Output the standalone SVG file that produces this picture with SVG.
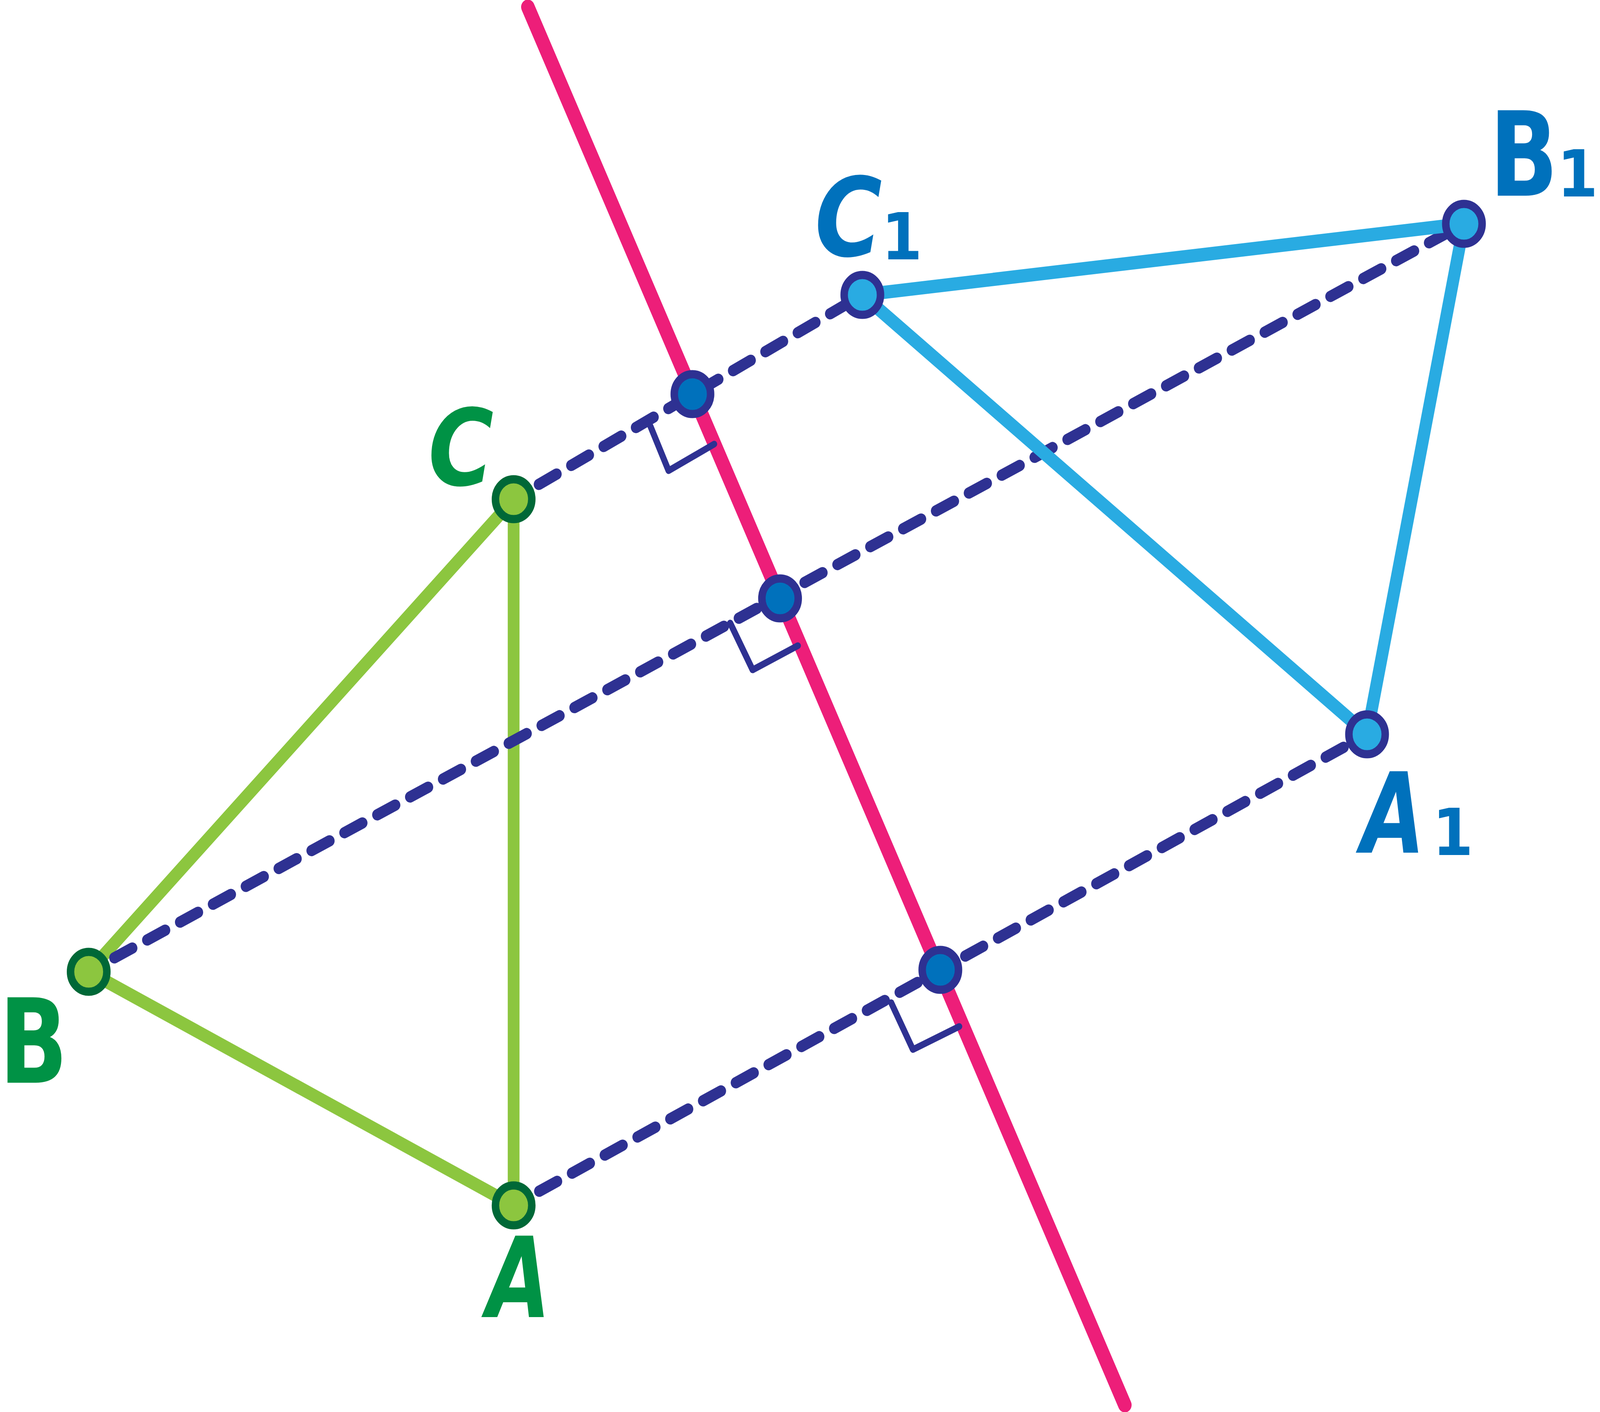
<svg xmlns="http://www.w3.org/2000/svg" width="4492" height="3615" viewBox="0 0 4492 3615" preserveAspectRatio="none">
  <style>
    svg { width: 100vw; height: 100vh; }
    .green-line { stroke: #8CC63F; stroke-width: 33; stroke-linecap: round; fill: none; }
    .blue-line { stroke: #29ABE2; stroke-width: 34; stroke-linecap: round; fill: none; }
    .mirror { stroke: #ED1E79; stroke-width: 38; stroke-linecap: round; fill: none; }
    .dash { stroke: #2E3192; stroke-width: 29; stroke-linecap: round; stroke-dasharray: 56 47; stroke-dashoffset: 22.5; fill: none; }
    .mark { stroke: #2E3192; stroke-width: 17; stroke-linecap: round; stroke-linejoin: round; fill: none; }
    .pt-orig { fill: #8CC63F; stroke: #006837; stroke-width: 21; }
    .pt-img { fill: #29ABE2; stroke: #2E3192; stroke-width: 21; }
    .pt-foot { fill: #0071BC; stroke: #2E3192; stroke-width: 21; }
    .lbl { font-family: "DejaVu Sans", "Liberation Sans", sans-serif; font-weight: bold; text-anchor: middle; }
    .lbl-o { fill: #009245; }
    .lbl-i { fill: #0071BC; }
    .slant { font-style: italic; }
  </style>
  <rect width="4492" height="3615" fill="#FFFFFF"/>

  <g id="connectors">
    <line id="mirror-line" class="mirror" x1="1482" y1="18" x2="3158" y2="3597"/>
    <line id="edge-CA" class="green-line" x1="1442" y1="1278" x2="1442" y2="3086"/>
    <line id="edge-CB" class="green-line" x1="1442" y1="1278" x2="249" y2="2488"/>
    <line id="edge-BA" class="green-line" x1="249" y1="2488" x2="1442" y2="3086"/>
    <line id="dash-CC1" class="dash" x1="1442" y1="1278" x2="2421" y2="755"/>
    <line id="dash-BB1" class="dash" x1="249" y1="2488" x2="4110" y2="573"/>
    <line id="dash-AA1" class="dash" x1="1442" y1="3086" x2="3838" y2="1880"/>
    <line id="edge-C1B1" class="blue-line" x1="2421" y1="755" x2="4110" y2="573"/>
    <line id="edge-B1A1" class="blue-line" x1="4110" y1="573" x2="3838" y2="1880"/>
    <line id="edge-A1C1" class="blue-line" x1="3838" y1="1880" x2="2421" y2="755"/>
    <polyline id="right-angle-C" class="mark" points="1826,1091 1877,1205 2005,1137"/>
    <polyline id="right-angle-B" class="mark" points="2050,1595 2113,1715 2240,1653"/>
    <polyline id="right-angle-A" class="mark" points="2502,2567 2563,2687 2693,2628"/>
  </g>

  <g id="node-C">
    <circle class="pt-orig" cx="1442" cy="1278" r="51"/>
    <text class="lbl lbl-o slant" transform="translate(1294,1242) scale(0.92,1)" font-size="272">C</text>
  </g>
  <g id="node-B">
    <circle class="pt-orig" cx="249" cy="2488" r="51"/>
    <text class="lbl lbl-o" transform="translate(94,2772) scale(0.84,1)" font-size="300">B</text>
  </g>
  <g id="node-A">
    <circle class="pt-orig" cx="1442" cy="3086" r="51"/>
    <text class="lbl lbl-o slant" transform="translate(1456,3372) scale(0.81,1)" font-size="286">A</text>
  </g>

  <g id="node-C1">
    <circle class="pt-img" cx="2421" cy="755" r="51"/>
    <text class="lbl lbl-i slant" transform="translate(2382,655) scale(0.92,1)" font-size="280">C</text>
    <text class="lbl lbl-i" x="2532" y="664" font-size="165">1</text>
  </g>
  <g id="node-B1">
    <circle class="pt-img" cx="4110" cy="573" r="51"/>
    <text class="lbl lbl-i" transform="translate(4278,501) scale(0.84,1)" font-size="300">B</text>
    <text class="lbl lbl-i" x="4429" y="503" font-size="165">1</text>
  </g>
  <g id="node-A1">
    <circle class="pt-img" cx="3838" cy="1880" r="51"/>
    <text class="lbl lbl-i slant" transform="translate(3911,2183) scale(0.81,1)" font-size="286">A</text>
    <text class="lbl lbl-i" x="4079" y="2189" font-size="165">1</text>
  </g>

  <g id="node-foot-C">
    <circle class="pt-foot" cx="1944" cy="1009" r="51"/>
  </g>
  <g id="node-foot-B">
    <circle class="pt-foot" cx="2190" cy="1532" r="51"/>
  </g>
  <g id="node-foot-A">
    <circle class="pt-foot" cx="2640" cy="2483" r="51"/>
  </g>
</svg>
